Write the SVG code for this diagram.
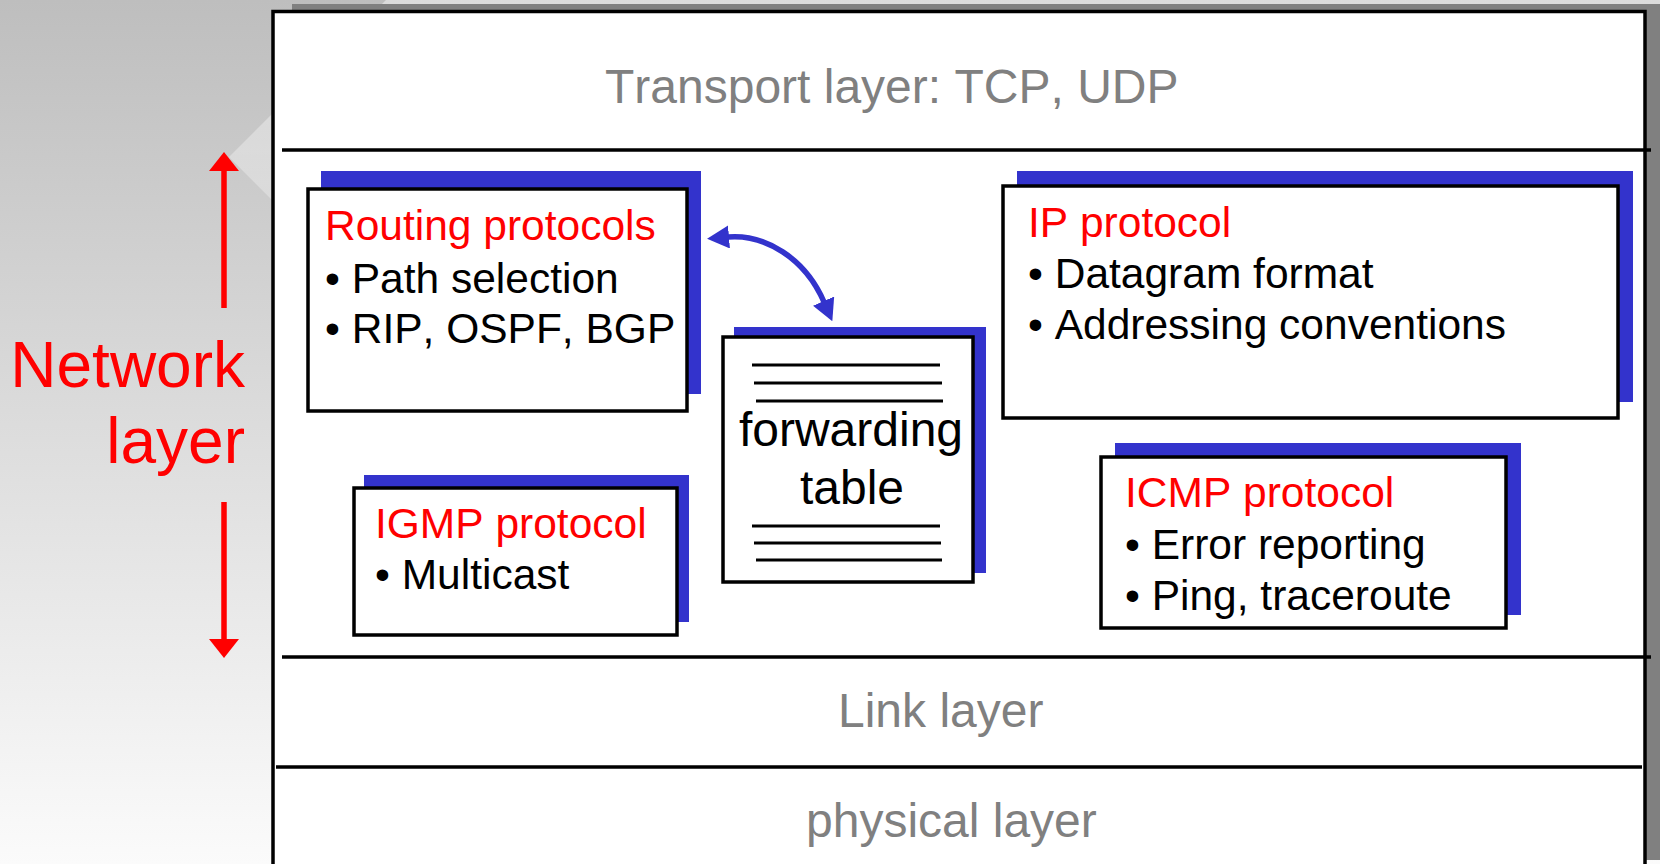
<svg xmlns="http://www.w3.org/2000/svg" width="1660" height="864" viewBox="0 0 1660 864">
<defs>
<linearGradient id="bg" x1="0" y1="0" x2="0" y2="1">
<stop offset="0" stop-color="#bebebe"/>
<stop offset="1" stop-color="#fbfbfb"/>
</linearGradient>
<linearGradient id="dia" x1="0" y1="0" x2="0" y2="864" gradientUnits="userSpaceOnUse">
<stop offset="0" stop-color="#ffffff" stop-opacity="0.45"/>
<stop offset="0.5" stop-color="#ffffff" stop-opacity="0.1"/>
<stop offset="1" stop-color="#ffffff" stop-opacity="0"/>
</linearGradient>
<marker id="head" viewBox="0 0 22 23" markerWidth="22" markerHeight="23" refX="1" refY="11.5" orient="auto-start-reverse" markerUnits="userSpaceOnUse">
<path d="M0,0 L22,11.5 L0,23 z" fill="#3333cc"/>
</marker>
</defs>
<style>
text{font-family:"Liberation Sans",Arial,sans-serif;font-kerning:none}
.shadow{fill:#3333cc}
.box{fill:#ffffff;stroke:#000000;stroke-width:3.5}
.title{font-size:42.5px;fill:#ff0000}
.item{font-size:42.5px;fill:#000000}
.layer{font-size:48px;fill:#808080}
.net{font-size:64px;fill:#ff0000}
.ft{font-size:48px;fill:#000000}
.sep{stroke:#000000;stroke-width:3.5}
.tl{stroke:#000000;stroke-width:3}
</style>

<!-- background -->
<rect x="0" y="0" width="1660" height="864" fill="url(#bg)"/>
<polygon points="229,157 386,0 1660,0 1660,864 936,864" fill="url(#dia)"/>

<!-- slide frame -->
<rect x="292" y="4" width="1380" height="856" fill="#808080"/>
<rect x="273" y="11.5" width="1372" height="880" fill="#ffffff" stroke="#000000" stroke-width="3.5"/>

<!-- layer separators -->
<line class="sep" x1="282" y1="150" x2="1651" y2="150"/>
<line class="sep" x1="282" y1="657" x2="1651" y2="657"/>
<line class="sep" x1="276" y1="767" x2="1642" y2="767"/>

<text class="layer" x="605" y="103">Transport layer: TCP, UDP</text>
<text class="layer" x="838" y="727">Link layer</text>
<text class="layer" x="806" y="837">physical layer</text>

<!-- Network layer label -->
<g id="network-label">
<line x1="224" y1="308" x2="224" y2="168" stroke="#ff0000" stroke-width="5.5"/>
<polygon points="224,152 209,171 239,171" fill="#ff0000"/>
<line x1="224" y1="502" x2="224" y2="642" stroke="#ff0000" stroke-width="5.5"/>
<polygon points="224,658 209,639 239,639" fill="#ff0000"/>
<text class="net" x="245" y="387" text-anchor="end">Network</text>
<text class="net" x="245" y="463" text-anchor="end">layer</text>
</g>

<g id="routing">
<rect class="shadow" x="321" y="171" width="380" height="223"/>
<rect class="box" x="308" y="189" width="379" height="222"/>
<text class="title" x="325" y="240">Routing protocols</text>
<text class="item" x="325" y="293">• Path selection</text>
<text class="item" x="325" y="343">• RIP, OSPF, BGP</text>
</g>

<g id="igmp">
<rect class="shadow" x="364" y="475" width="325" height="147"/>
<rect class="box" x="354" y="488" width="323" height="147"/>
<text class="title" x="375" y="538">IGMP protocol</text>
<text class="item" x="375" y="589">• Multicast</text>
</g>

<g id="forwarding">
<rect class="shadow" x="734" y="327" width="252" height="246"/>
<rect class="box" x="723" y="337" width="250" height="245"/>
<line class="tl" x1="752" y1="365" x2="940" y2="365"/>
<line class="tl" x1="754" y1="383" x2="942" y2="383"/>
<line class="tl" x1="756" y1="401" x2="943" y2="401"/>
<text class="ft" x="851" y="446" text-anchor="middle">forwarding</text>
<text class="ft" x="852" y="504" text-anchor="middle">table</text>
<line class="tl" x1="752" y1="526" x2="940" y2="526"/>
<line class="tl" x1="754" y1="543" x2="941" y2="543"/>
<line class="tl" x1="756" y1="560" x2="942" y2="560"/>
</g>

<g id="ip">
<rect class="shadow" x="1017" y="171" width="616" height="231"/>
<rect class="box" x="1003" y="186" width="615" height="232"/>
<text class="title" x="1028" y="237">IP protocol</text>
<text class="item" x="1028" y="288">• Datagram format</text>
<text class="item" x="1028" y="339">• Addressing conventions</text>
</g>

<g id="icmp">
<rect class="shadow" x="1115" y="443" width="406" height="172"/>
<rect class="box" x="1101" y="457" width="405" height="171"/>
<text class="title" x="1125" y="507">ICMP protocol</text>
<text class="item" x="1125" y="559">• Error reporting</text>
<text class="item" x="1125" y="610">• Ping, traceroute</text>
</g>

<g id="connectors">
<path d="M728,237 C765,234 805,258 824,302" fill="none" stroke="#3333cc" stroke-width="5.5" marker-start="url(#head)" marker-end="url(#head)"/>
</g>
</svg>
